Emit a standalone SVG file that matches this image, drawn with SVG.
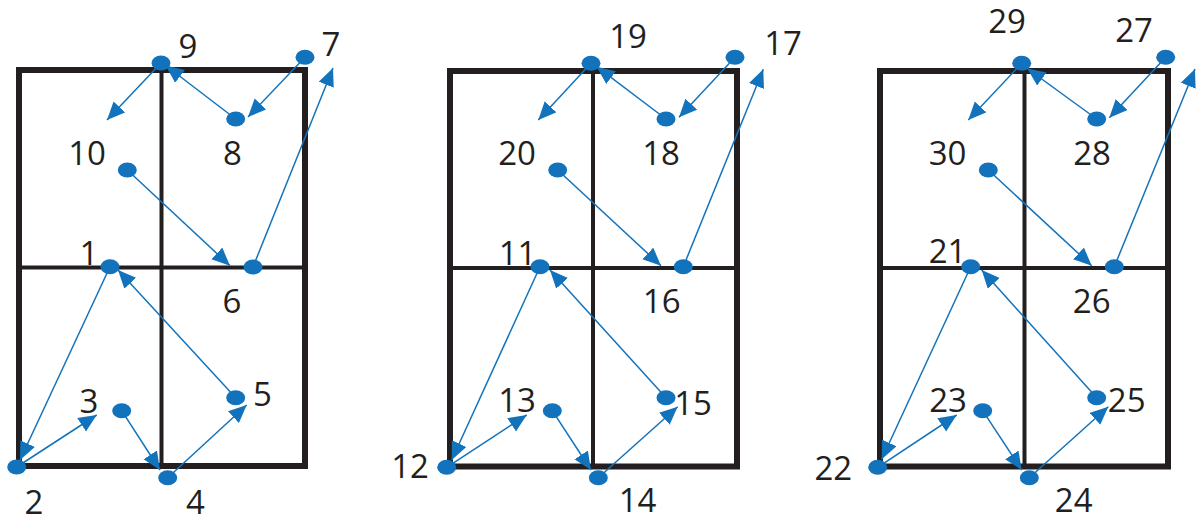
<svg xmlns="http://www.w3.org/2000/svg" width="1200" height="524" viewBox="0 0 1200 524">
<style>
.frame{fill:none;stroke:#231F20;stroke-width:6}
.div{stroke:#231F20;stroke-width:4}
.conn{stroke:#1273BC;stroke-width:1.5;fill:none;marker-end:url(#ah)}
.node ellipse{fill:#1273BC}
.node text{font-family:"Open Sans","DejaVu Sans",sans-serif;font-size:33px;font-weight:370;fill:#231F20;text-anchor:middle}
</style>
<defs>
<marker id="ah" markerUnits="userSpaceOnUse" markerWidth="19" markerHeight="17" refX="18" refY="8" orient="auto">
<path d="M0,0 L18,8 L0,16 z" fill="#1273BC"/>
</marker>
</defs>
<rect width="1200" height="524" fill="#fff"/>
<g id="grids">
<rect class="frame" x="19" y="70" width="286" height="396"/>
<line class="div" x1="161.5" y1="70" x2="161.5" y2="466"/>
<line class="div" x1="19" y1="267.5" x2="305" y2="267.5"/>
<rect class="frame" x="450" y="71" width="287" height="395.5"/>
<line class="div" x1="593" y1="71" x2="593" y2="466.5"/>
<line class="div" x1="450" y1="268" x2="737" y2="268"/>
<rect class="frame" x="880" y="71" width="288" height="395.5"/>
<line class="div" x1="1024.5" y1="71" x2="1024.5" y2="466.5"/>
<line class="div" x1="880" y1="268" x2="1168" y2="268"/>
</g>
<g id="connectors">
<path class="conn" d="M161,63 L107,120"/>
<path class="conn" d="M235.7,119 L165.7,65.5"/>
<path class="conn" d="M305,57.3 L248,117"/>
<path class="conn" d="M127.3,170 L230,265.7"/>
<path class="conn" d="M253,267 L333,68"/>
<path class="conn" d="M110,266.7 L20,460"/>
<path class="conn" d="M16.7,467 L96.7,415"/>
<path class="conn" d="M121.7,410.7 L160,470"/>
<path class="conn" d="M167.7,477.7 L246.7,405"/>
<path class="conn" d="M235.7,397.7 L118,270"/>
<path class="conn" d="M591,63.3 L538.3,120"/>
<path class="conn" d="M666,119 L596.7,66.7"/>
<path class="conn" d="M735,57.3 L679,117.3"/>
<path class="conn" d="M557.7,170 L661,265.7"/>
<path class="conn" d="M683.3,266.7 L763.3,69.3"/>
<path class="conn" d="M540,266.7 L451.7,460"/>
<path class="conn" d="M446.7,467.3 L526.7,415"/>
<path class="conn" d="M552.3,410.7 L591,470"/>
<path class="conn" d="M598.3,477.7 L677.7,406.7"/>
<path class="conn" d="M666,397.7 L550,270"/>
<path class="conn" d="M1021.7,63.3 L968.3,120"/>
<path class="conn" d="M1096.7,119 L1027.3,68.5"/>
<path class="conn" d="M1165.7,57.3 L1109.3,117.7"/>
<path class="conn" d="M988.3,170 L1091.7,265.7"/>
<path class="conn" d="M1114.3,266.7 L1195,69"/>
<path class="conn" d="M970.7,266.7 L881.7,459.3"/>
<path class="conn" d="M877.7,467.3 L956.7,415"/>
<path class="conn" d="M982.7,410.7 L1021.7,470"/>
<path class="conn" d="M1029.3,477.7 L1108.3,406.7"/>
<path class="conn" d="M1096.7,397.7 L981.7,270"/>
</g>
<g id="n1" class="node"><ellipse cx="110" cy="266.7" rx="9.5" ry="7.5"/><text x="89" y="265">1</text></g>
<g id="n2" class="node"><ellipse cx="16.7" cy="467" rx="9.5" ry="7.5"/><text x="34" y="514">2</text></g>
<g id="n3" class="node"><ellipse cx="121.7" cy="410.7" rx="9.5" ry="7.5"/><text x="89" y="412.7">3</text></g>
<g id="n4" class="node"><ellipse cx="167.7" cy="477.7" rx="9.5" ry="7.5"/><text x="195.5" y="514">4</text></g>
<g id="n5" class="node"><ellipse cx="235.7" cy="397.7" rx="9.5" ry="7.5"/><text x="262.5" y="406">5</text></g>
<g id="n6" class="node"><ellipse cx="253" cy="267" rx="9.5" ry="7.5"/><text x="232" y="313">6</text></g>
<g id="n7" class="node"><ellipse cx="305" cy="57.3" rx="9.5" ry="7.5"/><text x="331" y="56">7</text></g>
<g id="n8" class="node"><ellipse cx="235.7" cy="119" rx="9.5" ry="7.5"/><text x="232.5" y="165">8</text></g>
<g id="n9" class="node"><ellipse cx="161" cy="63" rx="9.5" ry="7.5"/><text x="188" y="58.3">9</text></g>
<g id="n10" class="node"><ellipse cx="127.3" cy="170" rx="9.5" ry="7.5"/><text x="87" y="165">10</text></g>
<g id="n11" class="node"><ellipse cx="540" cy="266.7" rx="9.5" ry="7.5"/><text x="517.5" y="265">11</text></g>
<g id="n12" class="node"><ellipse cx="446.7" cy="467.3" rx="9.5" ry="7.5"/><text x="410" y="478.3">12</text></g>
<g id="n13" class="node"><ellipse cx="552.3" cy="410.7" rx="9.5" ry="7.5"/><text x="517" y="411.7">13</text></g>
<g id="n14" class="node"><ellipse cx="598.3" cy="477.7" rx="9.5" ry="7.5"/><text x="637.5" y="511.7">14</text></g>
<g id="n15" class="node"><ellipse cx="666" cy="397.7" rx="9.5" ry="7.5"/><text x="693" y="415">15</text></g>
<g id="n16" class="node"><ellipse cx="683.3" cy="266.7" rx="9.5" ry="7.5"/><text x="661.7" y="313.3">16</text></g>
<g id="n17" class="node"><ellipse cx="735" cy="57.3" rx="9.5" ry="7.5"/><text x="783" y="55">17</text></g>
<g id="n18" class="node"><ellipse cx="666" cy="119" rx="9.5" ry="7.5"/><text x="661" y="165">18</text></g>
<g id="n19" class="node"><ellipse cx="591" cy="63.3" rx="9.5" ry="7.5"/><text x="628" y="48.3">19</text></g>
<g id="n20" class="node"><ellipse cx="557.7" cy="170" rx="9.5" ry="7.5"/><text x="517" y="165">20</text></g>
<g id="n21" class="node"><ellipse cx="970.7" cy="266.7" rx="9.5" ry="7.5"/><text x="947.5" y="263.3">21</text></g>
<g id="n22" class="node"><ellipse cx="877.7" cy="467.3" rx="9.5" ry="7.5"/><text x="833.3" y="480">22</text></g>
<g id="n23" class="node"><ellipse cx="982.7" cy="410.7" rx="9.5" ry="7.5"/><text x="948" y="412.3">23</text></g>
<g id="n24" class="node"><ellipse cx="1029.3" cy="477.7" rx="9.5" ry="7.5"/><text x="1073.7" y="511.7">24</text></g>
<g id="n25" class="node"><ellipse cx="1096.7" cy="397.7" rx="9.5" ry="7.5"/><text x="1126.7" y="412.3">25</text></g>
<g id="n26" class="node"><ellipse cx="1114.3" cy="266.7" rx="9.5" ry="7.5"/><text x="1091.7" y="313.3">26</text></g>
<g id="n27" class="node"><ellipse cx="1165.7" cy="57.3" rx="9.5" ry="7.5"/><text x="1134" y="41.7">27</text></g>
<g id="n28" class="node"><ellipse cx="1096.7" cy="119" rx="9.5" ry="7.5"/><text x="1092" y="165">28</text></g>
<g id="n29" class="node"><ellipse cx="1021.7" cy="63.3" rx="9.5" ry="7.5"/><text x="1007" y="33.3">29</text></g>
<g id="n30" class="node"><ellipse cx="988.3" cy="170" rx="9.5" ry="7.5"/><text x="947.5" y="165">30</text></g>
</svg>
